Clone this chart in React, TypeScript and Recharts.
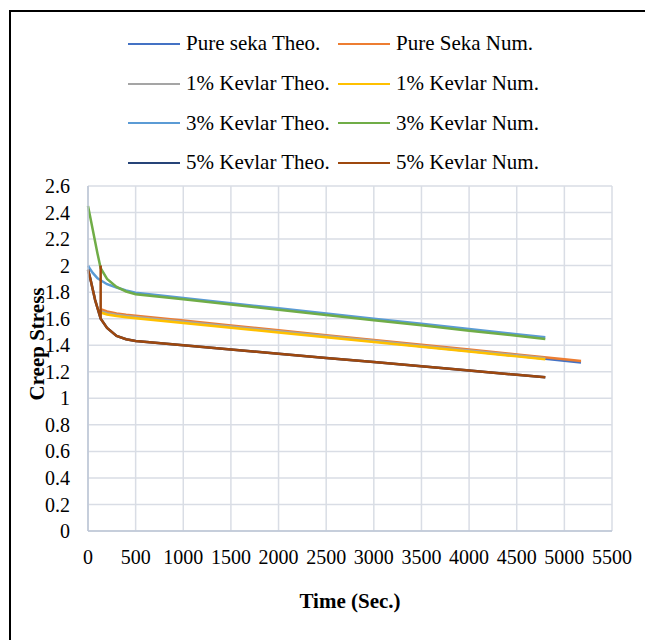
import { CartesianGrid, Label, Legend, Line, LineChart, XAxis, YAxis } from 'recharts';

// time (sec.) grids
const earlyTime = [0, 25, 50, 75, 100, 133, 200, 300, 400, 500, 1000, 1500, 2000, 2500, 3000, 3500, 4000, 4500, 4800];
const spikeTime = [0, 25, 50, 75, 100, 133, 133, 133, 200, 300, 400, 500, 1000, 1500, 2000, 2500, 3000, 3500, 4000, 4500, 4800];
const kevlar1Time = [140, 200, 300, 400, 500, 1000, 1500, 2000, 2500, 3000, 3500, 4000, 4500, 4800];
const pureTime = [140, 200, 300, 400, 500, 1000, 1500, 2000, 2500, 3000, 3500, 4000, 4500, 5000, 5175];

// creep stress values
const pureTheo = [1.66, 1.645, 1.63, 1.62, 1.612, 1.576, 1.539, 1.503, 1.466, 1.43, 1.393, 1.357, 1.32, 1.283, 1.27];
const pureNum = [1.67, 1.655, 1.64, 1.63, 1.622, 1.586, 1.549, 1.513, 1.476, 1.44, 1.403, 1.367, 1.33, 1.294, 1.281];
const kevlar1Theo = [1.655, 1.642, 1.63, 1.62, 1.613, 1.577, 1.541, 1.505, 1.469, 1.433, 1.397, 1.361, 1.325, 1.302];
const kevlar1Num = [1.645, 1.632, 1.62, 1.611, 1.604, 1.568, 1.532, 1.496, 1.46, 1.424, 1.388, 1.352, 1.316, 1.294];
const kevlar3Theo = [2.0, 1.97, 1.945, 1.925, 1.905, 1.89, 1.86, 1.835, 1.812, 1.795, 1.756, 1.717, 1.678, 1.639, 1.6, 1.561, 1.522, 1.483, 1.46];
const kevlar3Num = [2.45, 2.36, 2.27, 2.18, 2.09, 1.98, 1.9, 1.84, 1.805, 1.785, 1.746, 1.707, 1.668, 1.628, 1.589, 1.55, 1.51, 1.471, 1.447];
const kevlar5Theo = [1.97, 1.9, 1.82, 1.74, 1.68, 1.6, 1.53, 1.47, 1.445, 1.432, 1.4, 1.368, 1.336, 1.304, 1.273, 1.241, 1.209, 1.177, 1.158];
const kevlar5Num = [1.97, 1.9, 1.82, 1.74, 1.68, 1.6, 2.0, 1.6, 1.53, 1.47, 1.445, 1.432, 1.4, 1.368, 1.336, 1.304, 1.273, 1.241, 1.209, 1.177, 1.158];

const xTicks = [0, 500, 1000, 1500, 2000, 2500, 3000, 3500, 4000, 4500, 5000, 5500];
const yTicks = [0, 0.2, 0.4, 0.6, 0.8, 1, 1.2, 1.4, 1.6, 1.8, 2, 2.2, 2.4, 2.6];

const FONT = '"Liberation Serif", "Times New Roman", Times, serif';

const toPoints = (time: number[], values: number[]) => time.map((t, i) => ({ t, v: values[i] }));

const series = [
  { name: 'Pure seka Theo.', color: '#4472C4', data: toPoints(pureTime, pureTheo) },
  { name: 'Pure Seka Num.', color: '#ED7D31', data: toPoints(pureTime, pureNum) },
  { name: '1% Kevlar Theo.', color: '#A5A5A5', data: toPoints(kevlar1Time, kevlar1Theo) },
  { name: '1% Kevlar Num.', color: '#FFC000', data: toPoints(kevlar1Time, kevlar1Num) },
  { name: '3% Kevlar Theo.', color: '#5B9BD5', data: toPoints(earlyTime, kevlar3Theo) },
  { name: '3% Kevlar Num.', color: '#70AD47', data: toPoints(earlyTime, kevlar3Num) },
  { name: '5% Kevlar Theo.', color: '#264478', data: toPoints(earlyTime, kevlar5Theo) },
  { name: '5% Kevlar Num.', color: '#9E480E', data: toPoints(spikeTime, kevlar5Num) },
];

const fmt = (v: number) => String(Number(v.toFixed(1)));

function LegendBox() {
  return (
    <div
      style={{
        display: 'grid',
        gridTemplateColumns: '210px 230px',
        gridAutoRows: '39.7px',
        fontFamily: FONT,
        fontSize: 21,
        color: '#000',
      }}
    >
      {series.map((s) => (
        <div key={s.name} style={{ display: 'flex', alignItems: 'center', whiteSpace: 'nowrap', fontFamily: FONT }}>
          <span style={{ display: 'inline-block', width: 52, height: 0, borderTop: `2.5px solid ${s.color}`, marginRight: 6 }} />
          <span>{s.name}</span>
        </div>
      ))}
    </div>
  );
}

export default function App() {
  return (
    <div
      style={{
        position: 'fixed',
        left: 0,
        top: 0,
        width: 645,
        height: 640,
        overflow: 'hidden',
        background: '#fff',
        fontFamily: FONT,
      }}
    >
      <div
        style={{
          position: 'absolute',
          left: 9,
          top: 10,
          width: 660,
          height: 660,
          border: '2px solid #000',
          boxSizing: 'border-box',
        }}
      />
      <div style={{ position: 'absolute', left: 0, top: 0 }}>
        <LineChart
          width={645}
          height={640}
          margin={{ top: 186, right: 33, bottom: 79, left: 28 }}
          style={{ fontFamily: FONT }}
        >
          <CartesianGrid stroke="#D9DDE5" strokeWidth={1.5} />
          <XAxis
            type="number"
            dataKey="t"
            domain={[0, 5500]}
            ticks={xTicks}
            interval={0}
            height={30}
            tickLine={false}
            tickMargin={13}
            stroke="#BCC6D6"
            strokeWidth={1.5}
            tick={{ fill: '#000', fontSize: 20, fontFamily: FONT }}
            allowDuplicatedCategory={false}
          >
            <Label
              value="Time (Sec.)"
              position="bottom"
              offset={32}
              style={{ fill: '#000', fontSize: 21, fontWeight: 'bold', fontFamily: FONT }}
            />
          </XAxis>
          <YAxis
            type="number"
            domain={[0, 2.6]}
            ticks={yTicks}
            interval={0}
            width={60}
            tickLine={false}
            tickMargin={12}
            tickFormatter={fmt}
            stroke="#BCC6D6"
            strokeWidth={1.5}
            tick={{ fill: '#000', fontSize: 20, fontFamily: FONT }}
          >
            <Label
              content={() => (
                <text
                  x={37}
                  y={344}
                  transform="rotate(-90 37 344)"
                  textAnchor="middle"
                  dominantBaseline="central"
                  fill="#000"
                  fontSize={21}
                  fontWeight="bold"
                  fontFamily={FONT}
                >
                  Creep Stress
                </text>
              )}
            />
          </YAxis>
          <Legend
            layout="horizontal"
            verticalAlign="middle"
            align="center"
            wrapperStyle={{ top: 24, left: 128, width: 460 }}
            content={() => <LegendBox />}
          />
          {series.map((s) => (
            <Line
              key={s.name}
              name={s.name}
              data={s.data}
              dataKey="v"
              type="linear"
              stroke={s.color}
              strokeWidth={2.5}
              dot={false}
              activeDot={false}
              isAnimationActive={false}
            />
          ))}
        </LineChart>
      </div>
    </div>
  );
}
